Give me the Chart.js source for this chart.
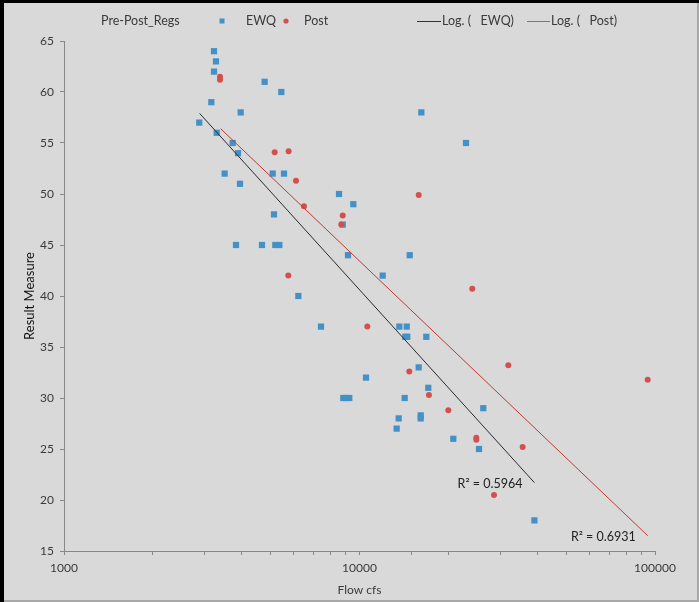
<!DOCTYPE html>
<html>
<head>
<meta charset="utf-8">
<script src="https://cdn.jsdelivr.net/npm/chart.js@4"></script>
<style>
html,body{margin:0;padding:0;background:#d9d9d9;}
#wrap{position:relative;width:699px;height:602px;}
canvas{display:block;}
</style>
</head>
<body>
<div id="wrap"><canvas id="c" width="699" height="602"></canvas></div>
<script>
// EWQ series (Flow cfs, Result Measure)
const ewqX = [2869,3152,3218,3268,3218,3287,3497,3722,3881,3941,3963,3820,4775,4677,5085,5136,5189,5355,5437,5553,6209,7408,8524,8776,8813,9000,9237,9143,9530,10520,11980,13360,13570,13640,14220,14290,14450,14510,14790,15860,16110,16110,16190,16830,17090,20770,22930,25380,26240,39080];
const ewqY = [57,59,64,63,62,56,52,55,54,51,58,45,61,45,52,48,45,45,60,52,40,37,50,47,30,30,30,44,49,32,42,27,28,37,30,36,37,36,44,33,28,28.3,58,36,31,26,55,25,29,18];
// Post series
const postX = [3373,3373,5163,5756,6097,6489,8776,8676,5742,10630,14740,15860,17180,19980,24080,24850,24850,28520,31880,35650,94450];
const postY = [61.5,61.2,54.1,54.2,51.3,48.8,47.9,47,42,37,32.6,49.9,30.3,28.8,40.7,26.1,25.9,20.5,33.2,25.2,31.8];
// Logarithmic trendlines (end points)
const ewqTrendX = [2877, 39080];
const ewqTrendY = [57.9, 21.7];
const postTrendX = [3390, 94500];
const postTrendY = [56.4, 16.5];
const ewqR2 = 'R² = 0.5964';
const postR2 = 'R² = 0.6931';
// Axis ticks
const yTicks = [15,20,25,30,35,40,45,50,55,60,65];
const xTickLabels = [1000,10000,100000];

const pts = (xs, ys) => xs.map((x, i) => ({x: x, y: ys[i]}));

const BLUE = '#4391c6';
const RED = '#d4504e';
const AXIS = '#888888';
const TXT = '#3a3a3a';
const FONT = 'Lato, "Liberation Sans", sans-serif';

const framePlugin = {
  id: 'frame',
  beforeDraw(chart) {
    const ctx = chart.ctx;
    ctx.save();
    ctx.fillStyle = '#d9d9d9';
    ctx.fillRect(0, 0, chart.width, chart.height);
    ctx.restore();
  },
  afterDraw(chart) {
    const ctx = chart.ctx;
    ctx.save();
    ctx.fillStyle = '#000';
    ctx.fillRect(0, 0, 4, chart.height);
    ctx.fillRect(0, 0, chart.width, 3);
    ctx.fillStyle = '#a8a8a8';
    ctx.fillRect(chart.width - 2, 3, 2, chart.height - 3);
    ctx.fillRect(4, chart.height - 2, chart.width - 4, 2);

    // legend
    const y = 21;
    ctx.font = '12.5px ' + FONT;
    ctx.fillStyle = TXT;
    ctx.textBaseline = 'middle';
    ctx.textAlign = 'left';
    ctx.fillText('Pre-Post_Regs', 101, y);
    ctx.fillStyle = BLUE;
    ctx.fillRect(219.5, y - 2.5, 5, 5);
    ctx.fillStyle = TXT;
    ctx.fillText('EWQ', 246, y);
    ctx.fillStyle = RED;
    ctx.beginPath(); ctx.arc(286, y, 2.6, 0, Math.PI * 2); ctx.fill();
    ctx.fillStyle = TXT;
    ctx.fillText('Post', 304, y);
    ctx.strokeStyle = '#333';
    ctx.lineWidth = 1;
    ctx.beginPath(); ctx.moveTo(417, y + 0.5); ctx.lineTo(441, y + 0.5); ctx.stroke();
    ctx.fillText('Log. (   EWQ)', 442, y);
    ctx.strokeStyle = RED;
    ctx.beginPath(); ctx.moveTo(527, y + 0.5); ctx.lineTo(550, y + 0.5); ctx.stroke();
    ctx.fillText('Log. (   Post)', 551, y);

    // R² labels at end of trendlines
    const xs = chart.scales.x, ys = chart.scales.y;
    ctx.fillStyle = '#222';
    ctx.textAlign = 'right';
    ctx.font = '12.5px ' + FONT;
    ctx.fillText(ewqR2, xs.getPixelForValue(ewqTrendX[1]) - 12, ys.getPixelForValue(ewqTrendY[1]) + 1);
    ctx.fillText(postR2, xs.getPixelForValue(postTrendX[1]) - 12, ys.getPixelForValue(postTrendY[1]) + 1);
    ctx.restore();
  }
};

new Chart(document.getElementById('c'), {
  type: 'scatter',
  data: {
    datasets: [
      { label: 'EWQ', data: pts(ewqX, ewqY), pointStyle: 'rect', pointRadius: 4.4, pointHoverRadius: 4.4,
        backgroundColor: BLUE, borderColor: BLUE, borderWidth: 0, order: 2 },
      { label: 'Post', data: pts(postX, postY), pointStyle: 'circle', pointRadius: 3, pointHoverRadius: 3,
        backgroundColor: RED, borderColor: RED, borderWidth: 0, order: 1 },
      { label: 'Log. (EWQ)', type: 'line', data: pts(ewqTrendX, ewqTrendY), borderColor: '#2a2a2a',
        borderWidth: 1, pointRadius: 0, fill: false, order: 0 },
      { label: 'Log. (Post)', type: 'line', data: pts(postTrendX, postTrendY), borderColor: '#c0392f',
        borderWidth: 1, pointRadius: 0, fill: false, order: 0 }
    ]
  },
  options: {
    responsive: false,
    animation: false,
    devicePixelRatio: 1,
    layout: { padding: { left: 18, right: 44, top: 41, bottom: 4 } },
    plugins: { legend: { display: false }, tooltip: { enabled: false } },
    scales: {
      x: {
        type: 'logarithmic', min: 1000, max: 100000,
        afterFit(s) { s.height = 47; },
        grid: { drawOnChartArea: false, drawTicks: true, tickLength: 4, color: AXIS },
        border: { color: AXIS, width: 1 },
        ticks: {
          autoSkip: false, maxRotation: 0, minRotation: 0, padding: 6,
          color: TXT, font: { family: FONT, size: 12 },
          callback(v) { return xTickLabels.includes(v) ? String(v) : ''; }
        },
        title: { display: true, text: 'Flow cfs', color: TXT, font: { family: FONT, size: 12 }, padding: { top: 0, bottom: 1 } }
      },
      y: {
        min: 15, max: 65,
        afterFit(s) { s.width = 46; },
        afterBuildTicks(s) { s.ticks = yTicks.map(v => ({ value: v })); },
        grid: { drawOnChartArea: false, drawTicks: true, tickLength: 4, color: AXIS },
        border: { color: AXIS, width: 1 },
        ticks: { padding: 6, color: TXT, font: { family: FONT, size: 12 } },
        title: { display: true, text: 'Result Measure', color: '#111', font: { family: FONT, size: 13 }, padding: { top: 4, bottom: 0 } }
      }
    }
  },
  plugins: [framePlugin]
});
</script>
</body>
</html>
